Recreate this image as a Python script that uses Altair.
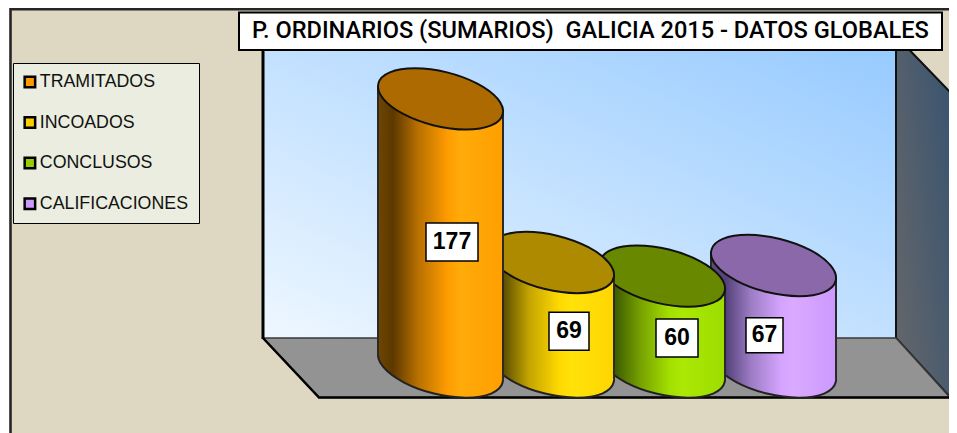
import math
import altair as alt
import pandas as pd

# ---------- chart values ----------
CATEGORIES = ["TRAMITADOS", "INCOADOS", "CONCLUSOS", "CALIFICACIONES"]
VALUES = [177, 69, 60, 67]
TITLE = "P. ORDINARIOS (SUMARIOS)\u00a0\u00a0GALICIA 2015 - DATOS GLOBALES"
LEGEND_COLORS = ["#ff9900", "#ffcc00", "#99cc00", "#cc99ff"]
TOP_COLORS = ["#ad6a00", "#ad8a00", "#688800", "#8a68aa"]

# ---------- layout / style ----------
W, H = 941, 425
ORIGIN = 8
PX_PER_INDEX = 111.0
PX_PER_VALUE = 359 / 237
HALF_W = 62.5
TILT = 12.5
RY = 30.5
BODY_STOPS = [
    ["#6e4600", "#5c3800", "#b87000", "#ff9c00", "#ffab0a", "#ff9f00"],
    ["#6e5e00", "#5e5000", "#c4a400", "#ffd800", "#ffe20a", "#ffd500"],
    ["#4a6b00", "#3c5c00", "#76a000", "#a4e000", "#ace804", "#9cdc00"],
    ["#5e4a7c", "#54427a", "#9d7cc4", "#d4a4ff", "#d9aaff", "#cc99ff"],
]
LABEL_OFFSET = [(11.5, 9), (17.5, 16.5), (14.5, 16.5), (-9, 19)]
LABEL_BOX = [(52, 38), (40, 38), (42, 38), (37, 35)]


def gradient(stops, x1=0, y1=0, x2=1, y2=0):
    return alt.LinearGradient(gradient="linear", x1=x1, y1=y1, x2=x2, y2=y2, stops=stops)


def body_gradient(colors):
    offs = [0, 0.12, 0.32, 0.56, 0.66, 1]
    return gradient([alt.GradientStop(offset=o, color=c) for o, c in zip(offs, colors)])


def poly(points):
    """Decoration path in page pixels (symbol size 4 = unit scale)."""
    return "M" + "L".join(f"{x - ORIGIN},{y - ORIGIN}" for x, y in points) + "Z"


def ellipse_path():
    """Tilted ellipse in the symbol's [-1,1] unit box."""
    sxx, syy, sxy = HALF_W ** 2, RY ** 2, TILT * HALF_W
    phi = 0.5 * math.atan2(2 * sxy, sxx - syy)
    mean, r = (sxx + syy) / 2, math.hypot((sxx - syy) / 2, sxy)
    a, b = math.sqrt(mean + r) / HALF_W, math.sqrt(mean - r) / HALF_W
    dx, dy = a * math.cos(phi), a * math.sin(phi)
    deg = math.degrees(phi)
    return (f"M{-dx:.4f},{-dy:.4f}A{a:.4f},{b:.4f},{deg:.3f},1,0,{dx:.4f},{dy:.4f}"
            f"A{a:.4f},{b:.4f},{deg:.3f},1,0,{-dx:.4f},{-dy:.4f}Z")


ELLIPSE = ellipse_path()
ONE = pd.DataFrame({"k": [0]})
xs = alt.Scale(domain=[0, 3], range=[440.5 - ORIGIN, 773.5 - ORIGIN])
ys = alt.Scale(domain=[0, 237], range=[359, 0], nice=False)
X = lambda f: alt.X(f"{f}:Q", scale=xs, axis=None)
Y = lambda f: alt.Y(f"{f}:Q", scale=ys, axis=None)


def deco(path, **style):
    style.setdefault("strokeWidth", 0)
    return alt.Chart(ONE).mark_point(shape=path, size=4, filled=True, opacity=1, **style).encode(
        x=alt.value(0), y=alt.value(0))


layers = [
    # page panel and its dark frame
    deco(poly([(10.5, 9.2), (970, 9.2), (970, 450), (10.5, 450)]), fill="#ded8c3", stroke="#262626", strokeWidth=2.6),
    # back wall
    deco(poly([(263, 46), (896, 46), (896, 338), (263, 338)]),
         fill=gradient([alt.GradientStop(offset=0, color="#eef7ff"), alt.GradientStop(offset=1, color="#96caff")],
                       x1=0, y1=1, x2=1, y2=0)),
    # right wall
    deco(poly([(896, 36), (950, 92), (950, 397), (896, 338)]),
         fill=gradient([alt.GradientStop(offset=0, color="#66676a"), alt.GradientStop(offset=1, color="#3e566f")],
                       x1=0, y1=1, x2=1, y2=0.3),
         stroke="#111111", strokeWidth=2),
    # floor
    deco(poly([(263, 338), (896, 338), (950, 397.5), (319, 397.5)]), fill="#939393", stroke="#3a3a3a", strokeWidth=1.5),
    deco(poly([(263, 338), (319, 397.5), (951, 397.5)]).replace("Z", ""), fill="transparent", stroke="#000000", strokeWidth=2.5),
    deco(poly([(263, 47), (263, 339)]).replace("Z", ""), fill="transparent", stroke="#000000", strokeWidth=3),
]

half = HALF_W / PX_PER_INDEX
tilt = TILT / PX_PER_VALUE

for i in reversed(range(len(CATEGORIES))):
    v = VALUES[i]
    body = pd.DataFrame({
        "x": [i - half, i + half],
        "top": [v + tilt, v - tilt],
        "bottom": [tilt, -tilt],
    })
    centre = pd.DataFrame({"x": [i], "v": [v], "zero": [0]})
    layers += [
        alt.Chart(centre).mark_point(shape=ELLIPSE, size=(2 * HALF_W) ** 2, filled=True, opacity=1,
                                     fill=body_gradient(BODY_STOPS[i]), stroke="#222222", strokeWidth=2
                                     ).encode(x=X("x"), y=Y("zero")),
        alt.Chart(body).mark_area(orient="vertical", fill=body_gradient(BODY_STOPS[i]), opacity=1
                                  ).encode(x=X("x"), y=Y("top"), y2=alt.Y2("bottom:Q")),
        alt.Chart(body).mark_rule(color="#2a2a2a", strokeWidth=2).encode(x=X("x"), y=Y("top"), y2=alt.Y2("bottom:Q")),
        alt.Chart(centre).mark_point(shape=ELLIPSE, size=(2 * HALF_W) ** 2, filled=True, opacity=1,
                                     fill=TOP_COLORS[i], stroke="#111111", strokeWidth=2
                                     ).encode(x=X("x"), y=Y("v")),
    ]

# value labels
for i, v in enumerate(VALUES):
    mid = pd.DataFrame({"x": [i], "mid": [v / 2], "v": [v]})
    (ox, oy), (bw, bh) = LABEL_OFFSET[i], LABEL_BOX[i]
    path = f"M{-bw/2},{-bh/2}L{bw/2},{-bh/2}L{bw/2},{bh/2}L{-bw/2},{bh/2}Z"
    layers += [
        alt.Chart(mid).mark_point(shape=path, size=4, filled=True, opacity=1, fill="white", stroke="black",
                                  strokeWidth=1.5, xOffset=ox, yOffset=oy).encode(x=X("x"), y=Y("mid")),
        alt.Chart(mid).mark_text(font="Liberation Sans", fontSize=23, fontWeight="bold", color="black",
                                 dx=ox, dy=oy, baseline="middle", align="center"
                                 ).encode(x=X("x"), y=Y("mid"), text="v:Q"),
    ]

# title box and title
layers.append(deco(poly([(239, 12.5), (942, 12.5), (942, 50), (239, 50)]), fill="white", stroke="black", strokeWidth=2))
layers.append(
    alt.Chart(ONE).mark_text(text=TITLE, font="Roboto", fontSize=23.6, fontWeight=500, color="black",
                             align="left", baseline="middle").encode(x=alt.value(252 - ORIGIN), y=alt.value(31 - ORIGIN))
)

# legend frame and legend carrier
layers.append(deco(poly([(13.5, 63.5), (199.5, 63.5), (199.5, 223.5), (13.5, 223.5)]), fill="#eaeddf", stroke="black", strokeWidth=1))
legend_df = pd.DataFrame({"cat": CATEGORIES, "x": [0, 0, 0, 0], "y": [0, 0, 0, 0]})
layers.append(
    alt.Chart(legend_df).mark_square(size=0, opacity=1, stroke="black", strokeWidth=2.5).encode(
        x=X("x"), y=Y("y"),
        color=alt.Color("cat:N",
                        scale=alt.Scale(domain=CATEGORIES, range=LEGEND_COLORS),
                        legend=alt.Legend(title=None, orient="none", legendX=13, legendY=65, padding=0,
                                          symbolType="square", symbolSize=110, symbolStrokeWidth=2.5,
                                          labelFont="Liberation Sans", labelFontSize=17.8, labelColor="#111111",
                                          labelLimit=300, labelOffset=1, rowPadding=18.6, symbolOpacity=1)))
)

chart = alt.layer(*layers).properties(
    width=W, height=H,
    padding=0,
    autosize=alt.AutoSizeParams(type="none"),
    background="white",
).configure_view(stroke=None)

chart.save("out.html", embed_options={"renderer": "svg", "actions": False})
